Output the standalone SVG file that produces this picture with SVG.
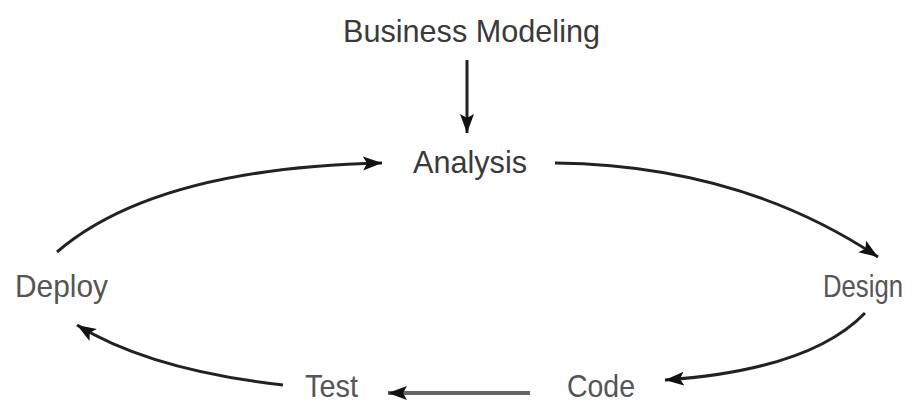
<svg xmlns="http://www.w3.org/2000/svg" width="923" height="403" viewBox="0 0 923 403">
<defs>
<marker id="ah" markerUnits="userSpaceOnUse" markerWidth="22" markerHeight="16" refX="19" refY="7" orient="auto">
<path d="M0,0 L19,7 L0,14 L4,7 z" fill="#111"/>
</marker>
<style>
.lbl{font-family:"Liberation Sans",Arial,sans-serif;font-size:32px;fill:#555}
.dark{fill:#3a3a3a}
.c{fill:none;stroke:#222;stroke-width:3;marker-end:url(#ah)}
.g{stroke:#666;stroke-width:4}
</style>
</defs>
<rect width="923" height="403" fill="#fff"/>
<g id="connectors">
<path class="c" d="M467 60 L467 133"/>
<path class="c" d="M57 252 Q155 168 382 163"/>
<path class="c" d="M555 163 Q740 165 878 257"/>
<path class="c" d="M865 313 Q810 370 665 380"/>
<path class="c g" d="M530 393 L388 393"/>
<path class="c" d="M283 385 Q150 370 77 325"/>
</g>
<g id="business-modeling"><text class="lbl dark" x="343" y="42" textLength="257" lengthAdjust="spacingAndGlyphs">Business Modeling</text></g>
<g id="analysis"><text class="lbl dark" x="413" y="173" textLength="114" lengthAdjust="spacingAndGlyphs">Analysis</text></g>
<g id="design"><text class="lbl" x="823" y="297" textLength="80" lengthAdjust="spacingAndGlyphs">Design</text></g>
<g id="code"><text class="lbl" x="567" y="397" textLength="68" lengthAdjust="spacingAndGlyphs">Code</text></g>
<g id="test"><text class="lbl" x="305" y="397" textLength="53" lengthAdjust="spacingAndGlyphs">Test</text></g>
<g id="deploy"><text class="lbl" x="15" y="297" textLength="93" lengthAdjust="spacingAndGlyphs">Deploy</text></g>
</svg>
